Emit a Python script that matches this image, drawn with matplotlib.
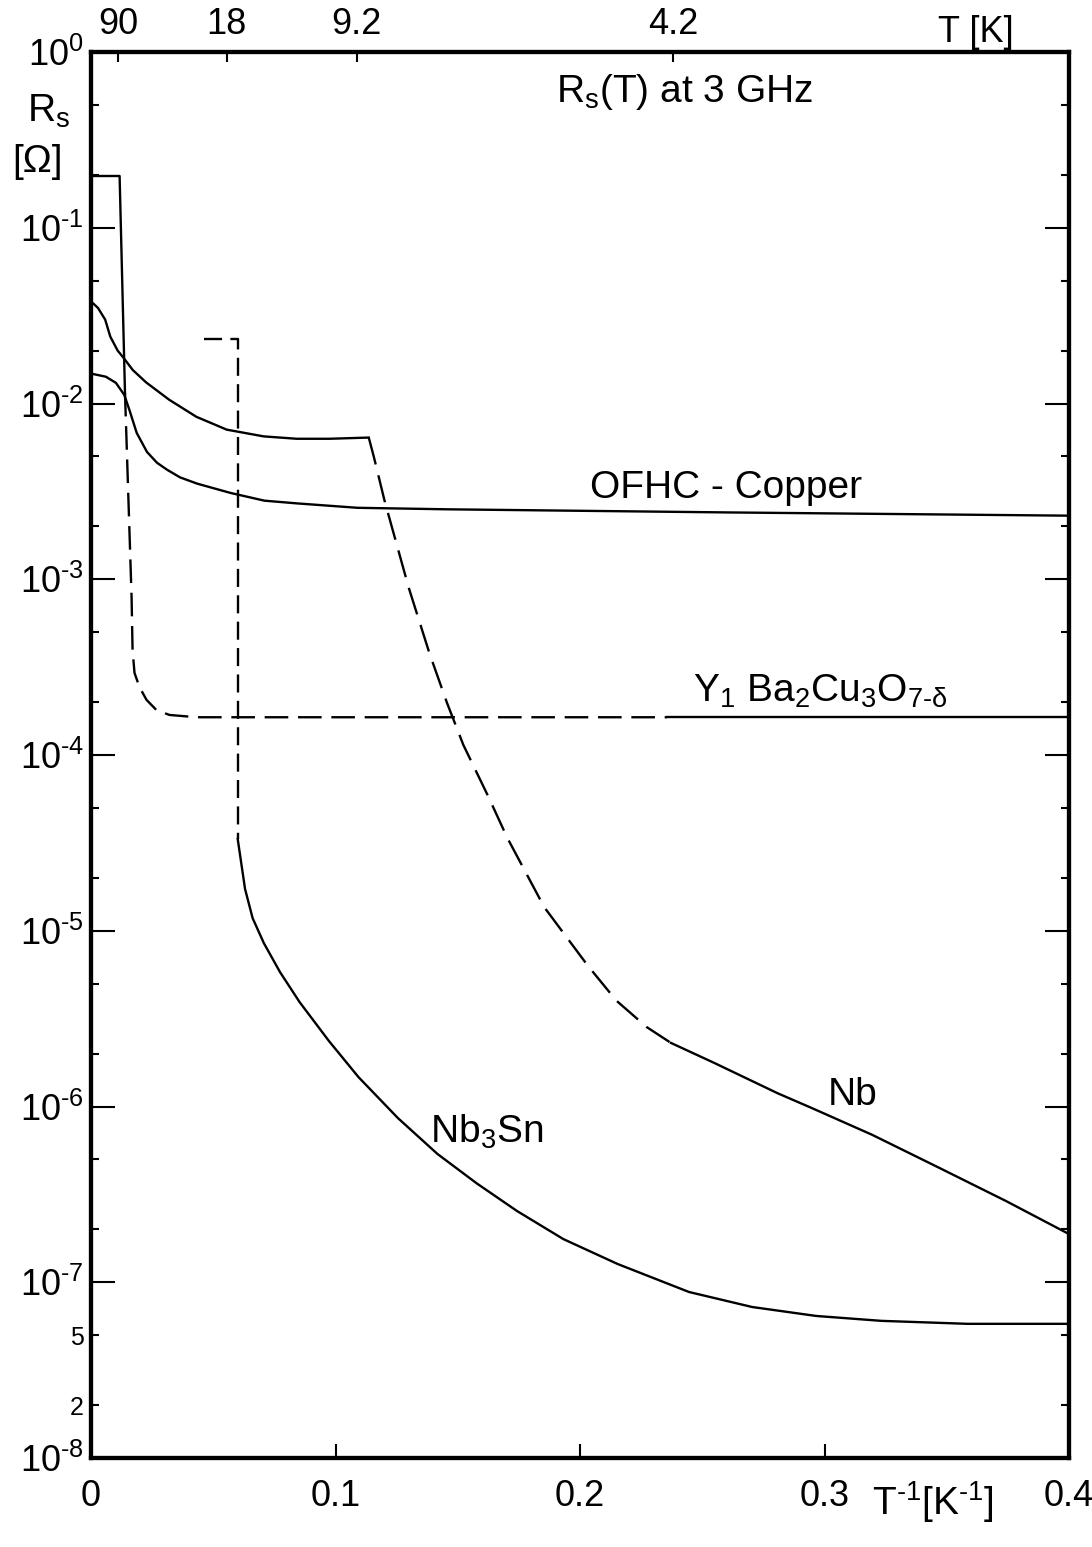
import numpy as np
import matplotlib.pyplot as plt
from matplotlib.ticker import FixedLocator, FuncFormatter, NullFormatter

plt.rcParams['font.family'] = ['Liberation Sans', 'DejaVu Sans']
plt.rcParams['mathtext.fontset'] = 'custom'
plt.rcParams['mathtext.rm'] = 'Liberation Sans'
plt.rcParams['mathtext.it'] = 'Liberation Sans'
plt.rcParams['mathtext.default'] = 'regular'
plt.rcParams['lines.scale_dashes'] = False

# OFHC copper (normal conductor)
cu_x = [0.001, 0.0061, 0.0102, 0.0136, 0.0157, 0.0187, 0.0229, 0.027, 0.0311, 0.0364,
        0.0434, 0.057, 0.0709, 0.0845, 0.109, 0.1458, 0.2604, 0.4]
cu_R = [1.47e-2, 1.42e-2, 1.31e-2, 1.12e-2, 9.2e-3, 6.8e-3, 5.3e-3, 4.6e-3, 4.2e-3, 3.8e-3,
        3.5e-3, 3.1e-3, 2.8e-3, 2.7e-3, 2.55e-3, 2.5e-3, 2.4e-3, 2.3e-3]

# Nb, normal state above Tc
nb_norm_x = [0.001, 0.0029, 0.0058, 0.0079, 0.0109, 0.0133, 0.0171, 0.0225, 0.032,
             0.0431, 0.0555, 0.0706, 0.0841, 0.0976, 0.1136]
nb_norm_R = [3.7e-2, 3.49e-2, 3.0e-2, 2.4e-2, 2.0e-2, 1.82e-2, 1.55e-2, 1.32e-2, 1.05e-2,
             8.4e-3, 7.1e-3, 6.5e-3, 6.3e-3, 6.3e-3, 6.4e-3]
# Nb, superconducting (dashed above 4.2 K)
nb_sc_x = [0.1136, 0.1157, 0.12, 0.1299, 0.1384, 0.1456, 0.1523, 0.1624, 0.1703,
           0.1854, 0.2033, 0.2149, 0.2273, 0.2372]
nb_sc_R = [6.4e-3, 4.96e-3, 2.82e-3, 9.0e-4, 3.8e-4, 1.98e-4, 1.14e-4, 5.84e-5, 3.37e-5,
           1.36e-5, 6.3e-6, 4.0e-6, 2.83e-6, 2.30e-6]
nb_low_x = [0.2372, 0.2549, 0.2808, 0.2948, 0.3195, 0.3466, 0.3742, 0.4]
nb_low_R = [2.30e-6, 1.77e-6, 1.19e-6, 9.8e-7, 6.9e-7, 4.5e-7, 2.9e-7, 1.88e-7]

# YBa2Cu3O7
ybco_top_x = [0.001, 0.0117, 0.0139]
ybco_top_R = [0.197, 0.197, 1.15e-2]
ybco_dash_x = [0.0139, 0.0166, 0.017, 0.0178, 0.0198, 0.0227, 0.0268, 0.0321, 0.0432, 0.2356]
ybco_dash_R = [1.15e-2, 7.9e-4, 3.95e-4, 2.93e-4, 2.44e-4, 2.06e-4, 1.80e-4, 1.69e-4,
               1.64e-4, 1.64e-4]
ybco_low_x = [0.2356, 0.4]
ybco_low_R = [1.64e-4, 1.64e-4]

# Nb3Sn
nb3sn_dash_x = [0.0464, 0.06, 0.06]
nb3sn_dash_R = [2.33e-2, 2.33e-2, 3.33e-5]
nb3sn_x = [0.06, 0.063, 0.0661, 0.0707, 0.0773, 0.0853, 0.0973, 0.1094, 0.1255, 0.1417,
           0.1578, 0.1743, 0.1932, 0.2154, 0.2446, 0.2704, 0.2966, 0.3233, 0.3585, 0.4]
nb3sn_R = [3.33e-5, 1.73e-5, 1.18e-5, 8.5e-6, 5.82e-6, 3.93e-6, 2.36e-6, 1.47e-6, 8.6e-7,
           5.37e-7, 3.65e-7, 2.54e-7, 1.76e-7, 1.27e-7, 8.8e-8, 7.23e-8, 6.43e-8, 6.03e-8,
           5.8e-8, 5.8e-8]

x_ticks = [0, 0.1, 0.2, 0.3, 0.4]
x_ticklabels = ['0', '0.1', '0.2', '0.3', '0.4']
y_exponents = [0, -1, -2, -3, -4, -5, -6, -7, -8]
top_T = [90, 18, 9.2, 4.2]
top_labels = ['90', '18', '9.2', '4.2']


def exp_label(v, pos):
    e = int(round(np.log10(v)))
    if e < 0:
        return r'$10^{\text{-}%d}$' % (-e)
    return r'$10^{%d}$' % e


def main():
    W, H = 1092, 1547
    fig = plt.figure(figsize=(W / 100, H / 100), dpi=100)
    ax = fig.add_axes([91 / W, 89 / H, 978 / W, 1406 / H])
    ax.set_yscale('log')
    ax.set_xlim(0, 0.4)
    ax.set_ylim(1e-8, 1)

    lw = 1.7
    ax.plot(cu_x, cu_R, color='k', lw=lw)
    ax.plot(nb_norm_x, nb_norm_R, color='k', lw=lw)
    ax.plot(nb_sc_x, nb_sc_R, color='k', lw=lw, dashes=(20, 8))
    ax.plot(nb_low_x, nb_low_R, color='k', lw=lw)
    ax.plot(ybco_top_x, ybco_top_R, color='k', lw=lw)
    ax.plot(ybco_dash_x, ybco_dash_R, color='k', lw=lw, dashes=(17, 7))
    ax.plot(ybco_low_x, ybco_low_R, color='k', lw=lw)
    ax.plot(nb3sn_dash_x, nb3sn_dash_R, color='k', lw=lw, dashes=(13, 6))
    ax.plot(nb3sn_x, nb3sn_R, color='k', lw=lw)

    for s in ax.spines.values():
        s.set_linewidth(3)

    # y axis: decades plus 2 and 5 minor ticks
    ax.yaxis.set_major_locator(FixedLocator([10.0 ** e for e in y_exponents]))
    ax.yaxis.set_major_formatter(FuncFormatter(exp_label))
    minors = [m * 10.0 ** e for e in y_exponents[1:] for m in (2, 5)]
    ax.yaxis.set_minor_locator(FixedLocator(minors))
    ax.yaxis.set_minor_formatter(FuncFormatter(
        lambda v, p: {2e-8: '2', 5e-8: '5'}.get(float('%.1g' % v), '')))
    ax.tick_params(axis='y', which='major', direction='in', length=17, width=1.5,
                   labelsize=26, pad=5, left=True, right=True)
    ax.tick_params(axis='y', which='minor', direction='in', length=6, width=1.5,
                   labelsize=18, pad=5, left=True, right=True)

    ax.set_xticks(x_ticks)
    ax.set_xticklabels(x_ticklabels)
    ax.tick_params(axis='x', which='major', direction='in', length=10, width=1.5,
                   labelsize=26, pad=15, top=False)
    ax.xaxis.set_minor_formatter(NullFormatter())

    # temperature scale on top
    ax_top = ax.twiny()
    ax_top.set_xlim(ax.get_xlim())
    ax_top.set_xticks(1.0 / np.array(top_T))
    ax_top.set_xticklabels(top_labels)
    ax_top.tick_params(axis='x', direction='in', length=7, width=1.5, labelsize=26, pad=7)
    for s in ax_top.spines.values():
        s.set_linewidth(3)

    # curve labels
    ax.text(0.2039, 2.9e-3, 'OFHC - Copper', fontsize=28, ha='left', va='baseline')
    ax.text(0.2462, 2.0e-4, r'Y$_1$ Ba$_2$Cu$_3$O$_{7\text{-}\delta}$', fontsize=28,
            ha='left', va='baseline')
    ax.text(0.3013, 1.02e-6, 'Nb', fontsize=28, ha='left', va='baseline')
    ax.text(0.1387, 6.2e-7, r'Nb$_3$Sn', fontsize=28, ha='left', va='baseline')
    ax.text(0.19, 0.519, r'R$_s$(T) at 3 GHz', fontsize=28, ha='left', va='baseline')

    # axis titles
    fig.text(27 / W, 1 - 122 / H, r'R$_s$', fontsize=28, ha='left', va='baseline')
    fig.text(12 / W, 1 - 172 / H, '[Ω]', fontsize=28, ha='left', va='baseline')
    fig.text(872 / W, 1 - 1515 / H, r'T$^{\text{-}1}$[K$^{\text{-}1}$]', fontsize=28,
             ha='left', va='baseline')
    fig.text(938 / W, 1 - 42 / H, 'T [K]', fontsize=26, ha='left', va='baseline')

    fig.savefig('out.png', dpi=100)
    plt.close(fig)


if __name__ == '__main__':
    main()
